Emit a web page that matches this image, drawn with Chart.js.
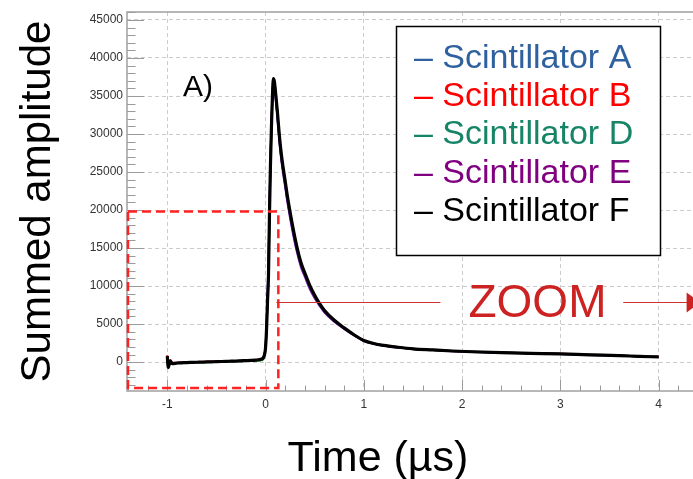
<!DOCTYPE html>
<html><head><meta charset="utf-8">
<script src="https://cdn.jsdelivr.net/npm/chart.js@4/dist/chart.umd.min.js"></script>
<style>html,body{margin:0;padding:0;background:#fff;}#wrap{width:693px;height:479px;}</style>
</head><body><div id="wrap"><canvas id="c" width="693" height="479"></canvas></div>
<script>
// ---- data ----
const time = [-1.00,-0.99,-0.97,-0.95,-0.90,-0.85,-0.80,-0.75,-0.70,-0.65,-0.60,-0.55,-0.50,-0.45,-0.40,-0.35,-0.30,-0.25,-0.20,-0.15,-0.10,-0.07,-0.05,-0.03,-0.02,-0.01,0.00,0.01,0.02,0.03,0.04,0.05,0.06,0.07,0.08,0.09,0.10,0.12,0.14,0.16,0.18,0.20,0.22,0.25,0.28,0.32,0.36,0.40,0.45,0.50,0.55,0.60,0.70,0.80,0.90,1.00,1.10,1.20,1.35,1.50,1.70,1.90,2.10,2.40,2.70,3.00,3.30,3.60,3.80,4.00];
const scintA = [750,-650,120,-180,-110,-80,-60,-30,-10,10,30,40,70,80,110,120,150,170,210,240,280,320,370,500,700,1100,2100,4700,8600,13200,20300,26800,31500,35300,37100,36600,35300,32500,29400,26900,25000,23300,21500,19200,17100,14700,12800,11400,9800,8500,7500,6600,5350,4400,3550,2800,2420,2180,1930,1740,1590,1450,1350,1240,1150,1070,950,850,750,670];
const scintB = [900,-800,250,-100,-80,-60,-40,-20,0,30,40,60,80,100,120,140,160,190,220,250,290,330,380,490,660,1000,1950,4400,8100,11800,19600,26100,31100,35100,37200,36800,35600,32900,29800,27300,25400,23700,21900,19600,17500,15000,13000,11650,10050,8750,7650,6750,5480,4480,3590,2840,2450,2210,1960,1760,1610,1470,1370,1260,1170,1090,970,870,770,690];
const scintD = [700,-600,100,-250,-150,-120,-90,-70,-50,-30,-10,10,30,50,60,80,100,110,130,150,170,190,220,300,450,800,1700,4100,7800,11200,19000,25700,30800,34800,37200,36900,35700,33000,29900,27400,25500,23800,22000,19700,17600,15100,13100,11700,10100,8800,7700,6800,5500,4500,3600,2850,2450,2200,1950,1750,1600,1460,1360,1250,1160,1080,960,860,760,680];
const scintE = [780,-680,140,-190,-120,-90,-60,-40,-20,0,20,40,60,80,100,120,140,170,200,230,270,310,360,490,680,1050,2050,4600,8500,13000,20100,26500,31300,35100,37000,36400,35000,32200,29100,26600,24700,23000,21200,18900,16800,14400,12500,11200,9600,8400,7400,6500,5300,4350,3500,2780,2400,2160,1920,1730,1580,1440,1340,1240,1150,1070,950,850,750,670];
const scintF = [800,-700,150,-200,-120,-90,-60,-40,-20,0,20,40,60,80,100,120,140,170,200,230,270,310,360,480,650,1000,1900,4300,8000,11500,19500,26000,31000,35000,37300,36900,35700,33000,29900,27400,25500,23800,22000,19700,17600,15100,13100,11700,10100,8800,7700,6800,5500,4500,3600,2850,2450,2200,1950,1750,1600,1460,1360,1250,1160,1080,960,860,760,680];
const seriesLabels = ['Scintillator A','Scintillator B','Scintillator D','Scintillator E','Scintillator F'];
const xTicks = [-1,0,1,2,3,4];
const yTicks = [0,5000,10000,15000,20000,25000,30000,35000,40000,45000];
const xTitle = 'Time (\u00b5s)';
const yTitle = 'Summed amplitude';

// ---- styling ----
const lineColors = ['#2a44c8','#ff0000','#22b022','#7a1ab0','#000000'];
const legendColors = ['#2f619e','#ff0000','#168466','#800080','#000000'];
const lineWidths = [2,2,2,2,3.2];
const FONT = "'Liberation Sans', Arial, sans-serif";

const allSeries = [scintA, scintB, scintD, scintE, scintF];
const datasets = allSeries.map((vals, i) => ({
  label: seriesLabels[i],
  data: time.map((t, k) => ({x: t, y: vals[k]})),
  borderColor: lineColors[i],
  backgroundColor: lineColors[i],
  borderWidth: lineWidths[i],
  pointRadius: 0,
  fill: false,
  cubicInterpolationMode: 'monotone',
  order: i === 4 ? 0 : 5 - i
}));

const deco = {
  id: 'deco',
  afterDatasetsDraw(chart) {
    const {ctx, chartArea: a, scales: {x, y}} = chart;
    ctx.save();
    ctx.strokeStyle = '#9a9a9a';
    ctx.lineWidth = 1;
    // x ticks
    for (let k = -7; k <= 21; k++) {
      const v = k / 5;
      if (v < x.min || v > x.max) continue;
      const px = Math.round(x.getPixelForValue(v)) + 0.5;
      const len = (k % 5 === 0) ? 11 : 5.5;
      ctx.beginPath(); ctx.moveTo(px, a.bottom); ctx.lineTo(px, a.bottom - len); ctx.stroke();
    }
    // y ticks
    for (let v = -3000; v <= 46000; v += 1000) {
      const py = Math.round(y.getPixelForValue(v)) + 0.5;
      const len = (v % 5000 === 0) ? 17 : 8.5;
      ctx.beginPath(); ctx.moveTo(a.left, py); ctx.lineTo(a.left + len, py); ctx.stroke();
    }
    // frame
    ctx.lineWidth = 1.5;
    ctx.strokeStyle = '#a0a0a0';
    ctx.strokeRect(a.left, a.top, a.right - a.left + 2, a.bottom - a.top);
    ctx.restore();
  },
  afterDraw(chart) {
    const {ctx, scales: {x, y}} = chart;
    const X = v => x.getPixelForValue(v), Y = v => y.getPixelForValue(v);
    ctx.save();
    // x axis title
    ctx.fillStyle = '#000';
    ctx.font = '43px ' + FONT;
    ctx.textAlign = 'center';
    ctx.textBaseline = 'alphabetic';
    ctx.fillText(xTitle, 378, 471);
    // "A)" label
    ctx.textAlign = 'left';
    ctx.font = '30px ' + FONT;
    ctx.fillText('A)', X(-0.84), Y(35000));
    // red dashed zoom box
    ctx.strokeStyle = '#ff2222';
    ctx.lineWidth = 2.5;
    ctx.setLineDash([9, 5]);
    ctx.strokeRect(X(-1.40), Y(19800), X(0.13) - X(-1.40), Y(-3400) - Y(19800));
    ctx.setLineDash([]);
    // ZOOM arrow
    const ay = Math.round(Y(7930)) + 0.5;
    ctx.strokeStyle = '#cc3333';
    ctx.lineWidth = 1.2;
    ctx.beginPath(); ctx.moveTo(X(0.11), ay); ctx.lineTo(X(1.78), ay); ctx.stroke();
    ctx.beginPath(); ctx.moveTo(X(3.64), ay); ctx.lineTo(X(4.29), ay); ctx.stroke();
    ctx.fillStyle = '#cc2222';
    ctx.beginPath();
    ctx.moveTo(X(4.285), ay - 10); ctx.lineTo(X(4.42), ay); ctx.lineTo(X(4.285), ay + 10); ctx.closePath(); ctx.fill();
    ctx.font = '46px ' + FONT;
    ctx.fillText('ZOOM', X(2.065), Y(5920));
    // legend box
    ctx.fillStyle = '#ffffff';
    ctx.fillRect(396, 26, 265, 230);
    ctx.strokeStyle = '#000';
    ctx.lineWidth = 1.5;
    ctx.strokeRect(396.5, 26.5, 264, 229);
    ctx.font = '34px ' + FONT;
    chart.data.datasets.forEach((ds, i) => {
      ctx.fillStyle = legendColors[i];
      ctx.fillText('\u2013 ' + ds.label, 414, 68 + i * 38.2);
    });
    ctx.restore();
  }
};

new Chart(document.getElementById('c'), {
  type: 'line',
  data: {datasets},
  options: {
    responsive: false,
    animation: false,
    devicePixelRatio: 1,
    layout: {padding: {top: 12, right: 0, left: 0, bottom: 0}},
    plugins: {legend: {display: false}, tooltip: {enabled: false}},
    scales: {
      x: {
        type: 'linear', min: -1.41, max: 4.35,
        afterBuildTicks: s => { s.ticks = xTicks.map(v => ({value: v})); },
        afterFit: s => { s.height = 88; },
        ticks: {font: {size: 12, family: FONT}, color: '#333', padding: 6, callback: v => String(v)},
        grid: {color: '#cccccc', lineWidth: 1, drawTicks: false},
        border: {display: false, dash: [4, 3]},
        title: {display: false}
      },
      y: {
        type: 'linear', min: -3800, max: 46050,
        afterBuildTicks: s => { s.ticks = yTicks.map(v => ({value: v})); },
        afterFit: s => { s.width = 127; },
        ticks: {font: {size: 12, family: FONT}, color: '#333', padding: 4, callback: v => String(v)},
        grid: {color: '#cccccc', lineWidth: 1, drawTicks: false},
        border: {display: false, dash: [4, 3]},
        title: {display: true, text: yTitle, color: '#000', font: {size: 42, family: FONT, lineHeight: 1}, padding: {top: 17, bottom: 0}}
      }
    }
  },
  plugins: [deco]
});
</script>
</body></html>
